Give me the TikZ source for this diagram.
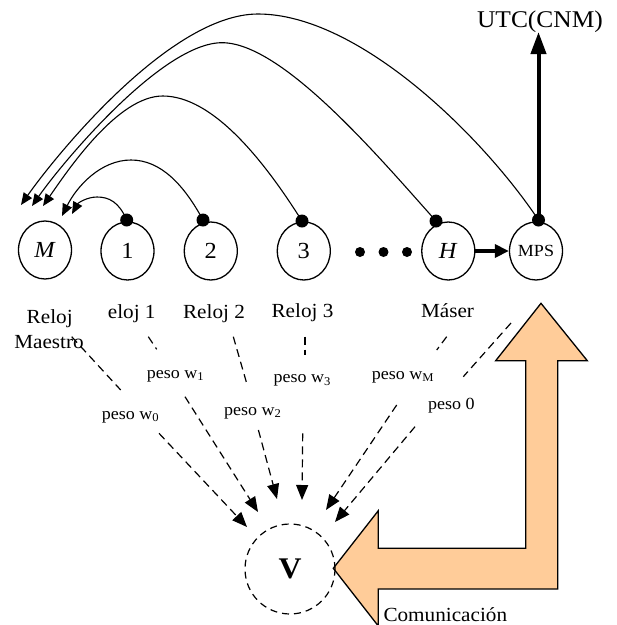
\documentclass[tikz,border=0pt]{standalone}
\usepackage{fontspec}
\setmainfont{Liberation Serif}[FakeStretch=1.06]
\usetikzlibrary{arrows.meta,shapes.geometric}
\definecolor{peach}{RGB}{255,204,153}
\tikzset{
 clock/.style={draw, line width=1.3pt, ellipse, minimum width=53pt, minimum height=58pt, inner sep=0pt, font=\fontsize{23}{25}\selectfont},
 bigdot/.style={circle, fill=black, minimum size=13pt, inner sep=0pt},
 smalldot/.style={circle, fill=black, minimum size=10pt, inner sep=0pt},
 arcline/.style={line width=1.1pt, -{Triangle[length=12pt,width=10pt]}},
 lbl/.style={font=\fontsize{20}{25}\selectfont, anchor=base, inner sep=0pt},
 peso/.style={font=\fontsize{17}{20}\selectfont, anchor=base west, inner sep=0pt},
 dsh/.style={dash pattern=on 8pt off 5pt, line width=1.2pt},
 dsharrow/.style={dsh, -{Triangle[length=15pt,width=12pt]}},
 thickarrow/.style={line width=3.5pt, -{Triangle[length=14pt,width=13pt]}},
 uparrow/.style={line width=4pt, -{Triangle[length=22pt,width=15pt]}},
}
\begin{document}
\begin{tikzpicture}[x=1pt,y=-1pt]
\useasboundingbox (0,0) rectangle (617,625);
% orange L-shaped arrow
\draw[line width=1.3pt, fill=peach, line join=miter] (541,303.3) -- (587.3,360.7) -- (557.7,360.7) -- (557.7,589) -- (378.3,589) -- (378.3,626) -- (333.3,568.3) -- (378.3,510.7) -- (378.3,548.3) -- (525.7,548.3) -- (525.7,360.7) -- (495.7,360.7) -- cycle;
% clocks
\node[clock] (M) at (45,250) {\textit{M}};
\node[clock] (C1) at (127.5,251) {1};
\node[clock] (C2) at (210.8,251) {2};
\node[clock] (C3) at (303.8,251) {3};
\node[clock] (H) at (448.3,251) {\textit{H}};
\node[clock, font=\fontsize{17}{19}\selectfont] (MPS) at (536,251) {MPS};
% dots on clocks
\node[bigdot] (d1) at (126.7,220) {};
\node[bigdot] (d2) at (203,220) {};
\node[bigdot] (d3) at (302,221) {};
\node[bigdot] (dH) at (436,221) {};
\node[bigdot] (dMPS) at (538.5,220) {};
% ellipsis dots
\node[smalldot] (e1) at (360,252) {};
\node[smalldot] (e2) at (383.5,252) {};
\node[smalldot] (e3) at (407,252) {};
% arrow tip coordinates near M
\coordinate (a1) at (72,214);
\coordinate (a2) at (62,216);
\coordinate (a3) at (43,206);
\coordinate (aH) at (32,206);
\coordinate (aMPS) at (21,205);
% arcs
\draw[arcline] (d1.center) .. controls (119,202) and (109,197) .. (97,197) .. controls (87,197) and (78,203) .. (a1);
\draw[arcline] (d2.center) .. controls (184,185) and (161,160) .. (131,160) .. controls (101,160) and (77,186) .. (a2);
\draw[arcline] (d3.center) .. controls (263.6,160) and (212.7,96) .. (162.7,96) .. controls (117.7,96) and (68,170) .. (a3);
\draw[arcline] (dH.center) .. controls (378,156) and (282,42.7) .. (222,42.7) .. controls (162,42.7) and (62,163) .. (aH);
\draw[arcline] (dMPS.center) .. controls (481.7,135) and (358,14) .. (258,14) .. controls (168,14) and (51,162) .. (aMPS);
% H -> MPS and MPS -> UTC
\draw[thickarrow] (H.east) -- (MPS.west);
\coordinate (utcTip) at (538.5,32);
\draw[uparrow] (dMPS.center) -- (utcTip);
\node[font=\fontsize{24}{26}\selectfont] (utc) at (540,21.7) {UTC(CNM)};
% clock labels
\node[lbl] (lM1) at (49.7,323.3) {Reloj};
\node[lbl] (lM2) at (49,348.3) {Maestro};
\node[lbl] (l1) at (131.7,318) {eloj 1};
\node[lbl] (l2) at (214,318) {Reloj 2};
\node[lbl] (l3) at (302.5,317.5) {Reloj 3};
\node[lbl] (lH) at (447.5,317.5) {Máser};
% weight labels
\node[peso] (p0) at (101.7,419.3) {peso w\textsubscript{0}};
\node[peso] (p1) at (146.7,378.3) {peso w\textsubscript{1}};
\node[peso] (p2) at (224,415) {peso w\textsubscript{2}};
\node[peso] (p3) at (273.3,382.7) {peso w\textsubscript{3}};
\node[peso] (pM) at (371.7,379.3) {peso w\textsubscript{M}};
\node[peso] (pZ) at (428,409.3) {peso 0};
% V node
\node[circle, draw, dash pattern=on 7pt off 5pt, line width=1.2pt, minimum size=90pt, inner sep=0pt, font=\bfseries\fontsize{30}{32}\selectfont] (V) at (290,569) {V};
\node[font=\fontsize{20}{24}\selectfont, anchor=base west, inner sep=0pt] (com) at (383.3,621.7) {Comunicación};
% dashed connector points
\coordinate (s0) at (71.7,336.7); \coordinate (g0a) at (120.7,390); \coordinate (g0b) at (159,433.3); \coordinate (t0) at (247,527);
\coordinate (s1) at (148.3,336.7); \coordinate (g1a) at (156.7,349.3); \coordinate (g1b) at (185,396.7); \coordinate (t1) at (258,512);
\coordinate (s2) at (233.3,336.7); \coordinate (g2a) at (246.7,383.3); \coordinate (g2b) at (258.4,430); \coordinate (t2) at (277,499);
\coordinate (s3) at (305,336.7); \coordinate (g3a) at (305,355); \coordinate (g3b) at (302.7,433.3); \coordinate (t3) at (302,500);
\coordinate (sM) at (446.7,336.7); \coordinate (gMa) at (436.7,350); \coordinate (gMb) at (396.7,405); \coordinate (tM) at (326,510);
\coordinate (sZ) at (511,323); \coordinate (gZa) at (463.3,376.7); \coordinate (gZb) at (415,426.7); \coordinate (tZ) at (335,522);
\draw[dsh] (s0) -- (g0a); \draw[dsharrow] (g0b) -- (t0);
\draw[dsh] (s1) -- (g1a); \draw[dsharrow] (g1b) -- (t1);
\draw[dsh] (s2) -- (g2a); \draw[dsharrow] (g2b) -- (t2);
\draw[dsh] (s3) -- (g3a); \draw[dsharrow] (g3b) -- (t3);
\draw[dsh] (sM) -- (gMa); \draw[dsharrow] (gMb) -- (tM);
\draw[dsh] (sZ) -- (gZa); \draw[dsharrow] (gZb) -- (tZ);
\end{tikzpicture}
\end{document}
